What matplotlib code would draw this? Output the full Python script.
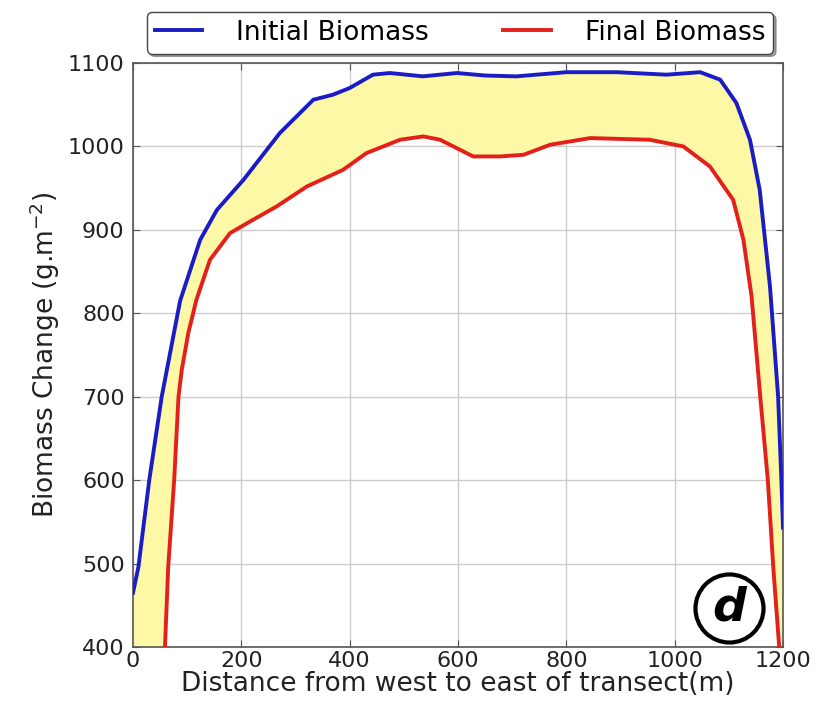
import numpy as np
import matplotlib
matplotlib.use("Agg")
import matplotlib.pyplot as plt

# Initial biomass (blue)
x_initial = [0, 10, 30, 53, 87, 124, 155, 204, 271, 333, 369, 400, 443, 474, 535,
             598, 650, 708, 800, 893, 985, 1047, 1084, 1114, 1139, 1157, 1176,
             1191, 1197, 1200]
y_initial = [465, 496, 600, 700, 815, 888, 924, 960, 1016, 1056, 1062, 1070, 1086,
             1088, 1084, 1088, 1085, 1084, 1089, 1089, 1086, 1089, 1080, 1052, 1008,
             948, 832, 700, 600, 543]

# Final biomass (red)
x_final = [0, 59, 65, 76, 84, 90, 102, 117, 142, 179, 216, 265, 321, 388, 431, 493,
           536, 567, 628, 678, 721, 770, 844, 954, 1016, 1065, 1108, 1127, 1142,
           1158, 1172, 1182, 1193, 1200]
y_final = [100, 400, 496, 600, 700, 732, 776, 816, 864, 896, 910, 928, 952, 972,
           992, 1008, 1012, 1008, 988, 988, 990, 1002, 1010, 1008, 1000, 976, 936,
           888, 820, 700, 600, 496, 400, 300]

x_ticks = [0, 200, 400, 600, 800, 1000, 1200]
y_ticks = [400, 500, 600, 700, 800, 900, 1000, 1100]

TICK_FS = 16
LABEL_FS = 19
fig = plt.figure(figsize=(8.23, 7.08), dpi=100)
ax = fig.add_axes([133/823, 1-647/708, 650/823, 584/708])

# yellow band between the curves
poly_x = np.concatenate([x_initial, x_final[::-1]])
poly_y = np.concatenate([y_initial, y_final[::-1]])
ax.fill(poly_x, poly_y, color="#fdf8a6", lw=0, zorder=1)

ax.plot(x_initial, y_initial, color="#1c1cc4", lw=2.8, label="Initial Biomass", zorder=3)
ax.plot(x_final, y_final, color="#e3201c", lw=2.8, label="Final Biomass", zorder=3)

ax.set_xlim(0, 1200)
ax.set_ylim(400, 1100)
ax.set_xticks(x_ticks)
ax.set_yticks(y_ticks)
ax.grid(True, color="#cccccc", lw=1.0, zorder=0)
ax.set_axisbelow(True)
ax.tick_params(direction="in", top=True, right=True, labelsize=TICK_FS, length=5,
               color="#555555", labelcolor="#222222")
ax.tick_params(axis="x", pad=3)
ax.tick_params(axis="y", pad=6)
for s in ax.spines.values():
    s.set_color("#555555")
    s.set_linewidth(1.2)

ax.set_xlabel("Distance from west to east of transect(m)", fontsize=LABEL_FS,
              color="#222222", labelpad=0)
ax.set_ylabel("Biomass Change (g.m$^{-2}$)", fontsize=LABEL_FS, color="#222222",
              labelpad=4)

leg = ax.legend(loc="center", bbox_to_anchor=(0.503, 1.052), ncol=2, fontsize=LABEL_FS,
                fancybox=True, shadow=True, frameon=True, handlelength=1.8,
                columnspacing=2.8, borderpad=0.3, handletextpad=1.3)
leg.get_frame().set_edgecolor("#444444")

# circled panel label
ax.plot([0.917], [0.067], marker="o", ms=49, mfc="white", mec="black", mew=3,
        transform=ax.transAxes, zorder=5, clip_on=False)
ax.text(0.917, 0.067, "d", transform=ax.transAxes, fontsize=34, fontweight="bold",
        fontstyle="italic", ha="center", va="center", zorder=6)

fig.savefig("out.png", dpi=100)
